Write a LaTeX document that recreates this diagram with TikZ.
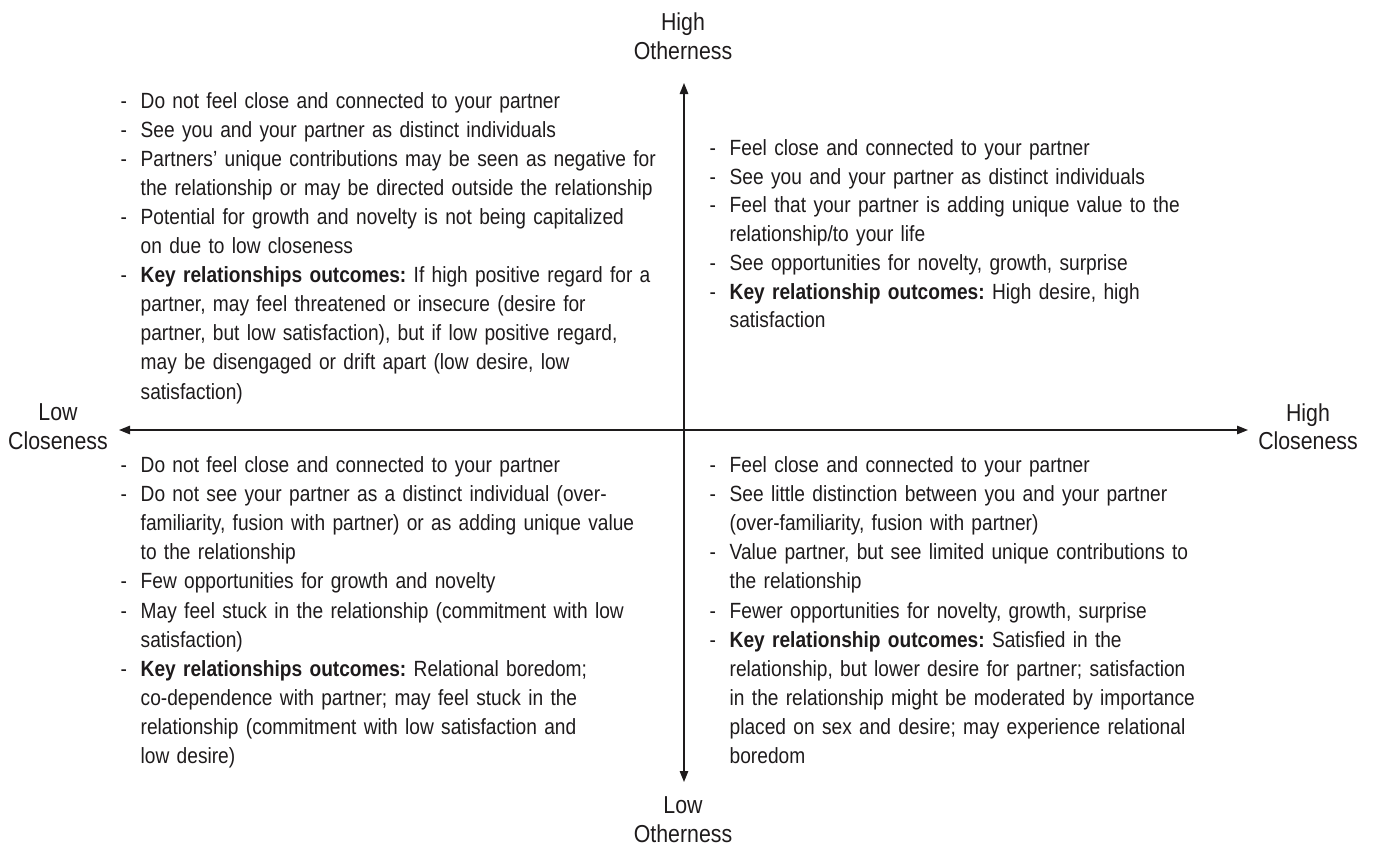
\documentclass[tikz,border=0pt]{standalone}
\usepackage{fontspec}
\setmainfont{Liberation Sans}[FakeStretch=0.87]
\usetikzlibrary{arrows.meta}
\definecolor{ink}{HTML}{1E1B1C}
\newcommand\dd{\makebox[20pt][l]{-}}
\newcommand\ci{\hspace*{20pt}}
\frenchspacing
\tikzset{
  axis/.style={draw=ink, line width=1.3pt, -{Triangle[length=11pt,width=8.5pt]}},
  quad/.style={anchor=base west, inner sep=0pt, text width=600pt, align=left, text=ink,
    font=\fontsize{22}{29.1}\selectfont\frenchspacing},
  lab/.style={align=center, inner sep=0pt, text=ink, font=\fontsize{24.5}{28.5}\selectfont}
}
\begin{document}
\begin{tikzpicture}[x=1pt,y=-1pt]
\useasboundingbox (0,0) rectangle (1373,854);
\coordinate (c) at (684,430);
\coordinate (top) at (684,83);
\coordinate (bot) at (684,782);
\coordinate (lft) at (119,430);
\coordinate (rgt) at (1248,430);
\draw[axis] (c) -- (top);
\draw[axis] (c) -- (bot);
\draw[axis] (c) -- (lft);
\draw[axis] (c) -- (rgt);

\node[lab] (ho) at (683,36) {High\\Otherness};
\node[lab] (lo) at (683,819.5) {Low\\Otherness};
\node[lab] (lc) at (58,426.5) {Low\\Closeness};
\node[lab] (hc) at (1308,426.5) {High\\Closeness};

\node[quad] (tl) at (120.5,108) {%
\dd Do not feel close and connected to your partner\\
\dd See you and your partner as distinct individuals\\
\dd Partners’ unique contributions may be seen as negative for\\
\ci the relationship or may be directed outside the relationship\\
\dd Potential for growth and novelty is not being capitalized\\
\ci on due to low closeness\\
\dd \textbf{Key relationships outcomes:} If high positive regard for a\\
\ci partner, may feel threatened or insecure (desire for\\
\ci partner, but low satisfaction), but if low positive regard,\\
\ci may be disengaged or drift apart (low desire, low\\
\ci satisfaction)};

\node[quad, font=\fontsize{22}{28.7}\selectfont\frenchspacing] (tr) at (709.5,155.5) {%
\dd Feel close and connected to your partner\\
\dd See you and your partner as distinct individuals\\
\dd Feel that your partner is adding unique value to the\\
\ci relationship/to your life\\
\dd See opportunities for novelty, growth, surprise\\
\dd \textbf{Key relationship outcomes:} High desire, high\\
\ci satisfaction};

\node[quad] (bl) at (120.5,472.5) {%
\dd Do not feel close and connected to your partner\\
\dd Do not see your partner as a distinct individual (over-\\
\ci familiarity, fusion with partner) or as adding unique value\\
\ci to the relationship\\
\dd Few opportunities for growth and novelty\\
\dd May feel stuck in the relationship (commitment with low\\
\ci satisfaction)\\
\dd \textbf{Key relationships outcomes:} Relational boredom;\\
\ci co-dependence with partner; may feel stuck in the\\
\ci relationship (commitment with low satisfaction and\\
\ci low desire)};

\node[quad] (br) at (709.5,472.5) {%
\dd Feel close and connected to your partner\\
\dd See little distinction between you and your partner\\
\ci (over-familiarity, fusion with partner)\\
\dd Value partner, but see limited unique contributions to\\
\ci the relationship\\
\dd Fewer opportunities for novelty, growth, surprise\\
\dd \textbf{Key relationship outcomes:} Satisfied in the\\
\ci relationship, but lower desire for partner; satisfaction\\
\ci in the relationship might be moderated by importance\\
\ci placed on sex and desire; may experience relational\\
\ci boredom};
\end{tikzpicture}
\end{document}
